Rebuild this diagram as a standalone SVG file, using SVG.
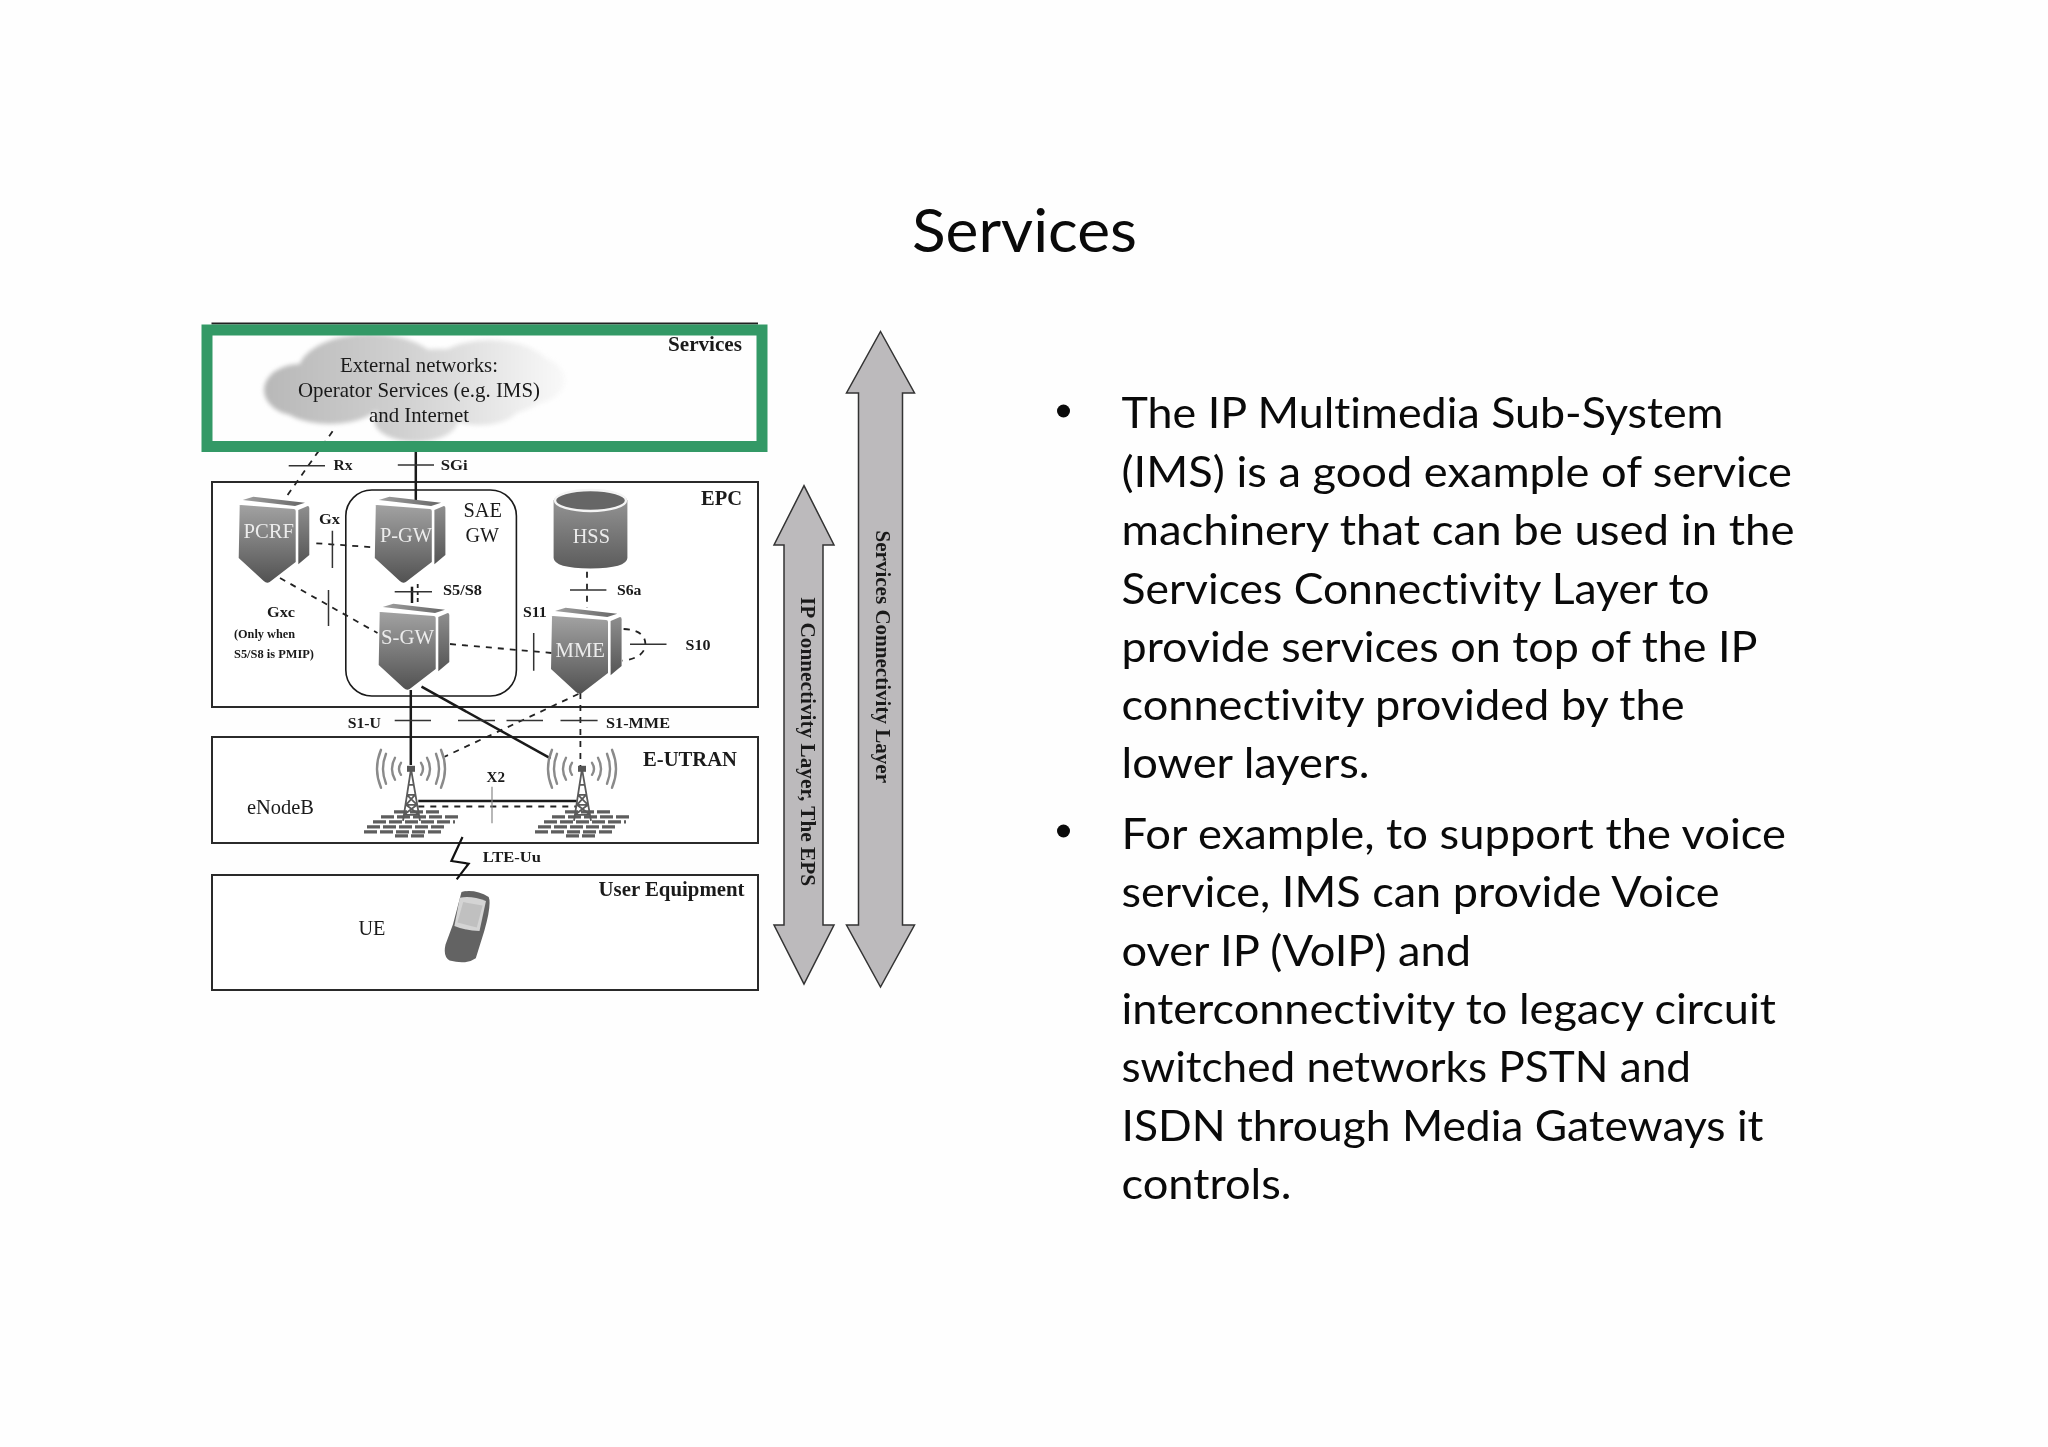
<svg xmlns="http://www.w3.org/2000/svg" width="2048" height="1447" viewBox="0 0 2048 1447">
<style>
text{font-family:"Liberation Serif","Times New Roman",serif;fill:#1a1a1a;font-variant-ligatures:none}
.b{font-weight:bold}
.w{fill:#ececec}
.body{font-family:Lato,"Noto Sans",sans-serif;font-size:43px;fill:#0a0a0a}
.box{fill:#fff;stroke:#2a2a2a;stroke-width:2}
.sol{fill:none;stroke:#1a1a1a;stroke-width:2.5}
.dash{fill:none;stroke:#222;stroke-width:1.8;stroke-dasharray:6 6}
.tick{fill:none;stroke:#333;stroke-width:1.5}
.wave{fill:none;stroke:#8a8a8a;stroke-width:2.4;stroke-linecap:round}
.arrow{fill:#bcbabc;stroke:#333;stroke-width:1.5}
</style>
<defs>
<filter id="soft" filterUnits="userSpaceOnUse" x="0" y="0" width="2048" height="1447" color-interpolation-filters="sRGB"><feGaussianBlur stdDeviation=".6"/></filter>
<filter id="softer" filterUnits="userSpaceOnUse" x="0" y="0" width="2048" height="1447" color-interpolation-filters="sRGB"><feGaussianBlur stdDeviation="2.2"/></filter>
<linearGradient id="front" x1="0" y1="0" x2="0" y2="1"><stop offset="0" stop-color="#a2a2a2"/><stop offset=".6" stop-color="#727272"/><stop offset="1" stop-color="#525252"/></linearGradient>
<linearGradient id="side" x1="0" y1="0" x2="0" y2="1"><stop offset="0" stop-color="#8e8e8e"/><stop offset="1" stop-color="#555"/></linearGradient>
<linearGradient id="cap" x1="0" y1="0" x2="1" y2="0"><stop offset="0" stop-color="#a0a0a0"/><stop offset="1" stop-color="#666"/></linearGradient>
<linearGradient id="hss" x1="0" y1="0" x2="0" y2="1"><stop offset="0" stop-color="#9a9a9a"/><stop offset="1" stop-color="#5c5c5c"/></linearGradient>
<linearGradient id="cloudG" gradientUnits="userSpaceOnUse" x1="264" y1="0" x2="570" y2="0"><stop offset="0" stop-color="#b8b8b8"/><stop offset=".45" stop-color="#d0d0d0"/><stop offset=".8" stop-color="#ebebeb"/><stop offset="1" stop-color="#fafafa"/></linearGradient>
<g id="server">
<path d="M4,-5 L14.600,-8.300 L66.300,-2.300 L56.300,1 Z" fill="url(#cap)"/>
<path d="M1,1 Q0,0 2,0 L55,4 Q57,4 57,6 L57,57 L31,77 Q28,79 25,76 L0,53 Z" fill="url(#front)"/>
<path d="M59.600,5 L69,1 Q70.600,1 70.600,3 L70.600,50 L59.600,59.300 Z" fill="url(#side)"/>
</g>
<g id="waves">
<path class="wave" d="M-10,-6 Q-14,0 -10,6 M10,-6 Q14,0 10,6"/>
<path class="wave" d="M-16,-11 Q-22,0 -16,11 M16,-11 Q22,0 16,11"/>
<path class="wave" d="M-25,-15 Q-31,0 -25,15 M25,-15 Q31,0 25,15"/>
<path class="wave" d="M-30,-19 Q-38,0 -30,19 M30,-19 Q38,0 30,19"/>
</g>
<g id="tower">
<path d="M0,0 L-8,52 M0,0 L9,52 M-2,16 L2,16 M-4,26 L4,26 M-5,36 L6,36 M-7,46 L8,46 M-4,26 L6,36 M4,26 L-5,36 M-5,36 L8,46 M6,36 L-7,46" fill="none" stroke="#5a5a5a" stroke-width="1.8"/>
<rect x="-4" y="-3" width="8" height="6" fill="#555"/>
</g>
<g id="grid" stroke="#5e5e5e" stroke-width="3.200" stroke-dasharray="13 3" fill="none">
<path d="M-17,43 H30"/><path d="M-30,48 H48"/><path d="M-38,53 H44"/><path d="M-44,58 H34"/><path d="M-47,63 H30"/><path d="M-16,67 H14"/>
</g>
</defs>
<rect id="background" width="2048" height="1447" fill="#fefefe"/>

<text id="title" x="912" y="252" font-size="60" textLength="225" lengthAdjust="spacingAndGlyphs" style="font-family:Lato,'Noto Sans',sans-serif;fill:#0a0a0a">Services</text>

<g id="diagram" filter="url(#soft)">
<g id="services-box">
<path d="M211.500,323.500 H758" stroke="#222" stroke-width="2" fill="none"/>
<g id="cloud" fill="url(#cloudG)" filter="url(#softer)">
<ellipse cx="300" cy="390" rx="36" ry="26"/>
<ellipse cx="370" cy="372" rx="72" ry="38"/>
<ellipse cx="440" cy="385" rx="90" ry="36"/>
<ellipse cx="490" cy="378" rx="66" ry="38"/>
<ellipse cx="530" cy="380" rx="35" ry="24"/>
<ellipse cx="416" cy="420" rx="42" ry="22"/>
<ellipse cx="330" cy="402" rx="50" ry="22"/>
<ellipse cx="480" cy="405" rx="40" ry="20"/>
</g>
<text x="340" y="372" font-size="21" textLength="158" lengthAdjust="spacingAndGlyphs">External networks:</text>
<text x="298" y="397" font-size="21" textLength="242" lengthAdjust="spacingAndGlyphs">Operator Services (e.g. IMS)</text>
<text x="369" y="422" font-size="21" textLength="100" lengthAdjust="spacingAndGlyphs">and Internet</text>
<text class="b" x="668" y="351" font-size="20" textLength="74" lengthAdjust="spacingAndGlyphs">Services</text>
</g>

<g id="epc-box"><rect class="box" x="212" y="482" width="546" height="225"/>
<rect x="345.800" y="490" width="170.600" height="206" rx="26" ry="26" fill="none" stroke="#1a1a1a" stroke-width="1.600"/>
<text class="b" x="701" y="505" font-size="22" textLength="41" lengthAdjust="spacingAndGlyphs">EPC</text>
<text x="463.500" y="517" font-size="22" textLength="38.500" lengthAdjust="spacingAndGlyphs">SAE</text>
<text x="465.500" y="542" font-size="22" textLength="33.500" lengthAdjust="spacingAndGlyphs">GW</text>
</g>
<g id="eutran-box"><rect class="box" x="212" y="737" width="546" height="106"/>
<text class="b" x="643" y="766" font-size="21" textLength="94" lengthAdjust="spacingAndGlyphs">E-UTRAN</text>
<text x="247" y="814" font-size="20" textLength="67" lengthAdjust="spacingAndGlyphs">eNodeB</text>
</g>
<g id="ue-box"><rect class="box" x="212" y="875" width="546" height="115"/>
<text class="b" x="598.500" y="896" font-size="20" textLength="146" lengthAdjust="spacingAndGlyphs">User Equipment</text>
<text x="358.500" y="935" font-size="20" textLength="27" lengthAdjust="spacingAndGlyphs">UE</text>
</g>

<g id="connectors">
<path class="dash" d="M287.600,495 L333.500,430"/>
<path class="sol" d="M415.800,446 V502"/>
<path class="dash" d="M316.300,543.300 L373.700,547.300"/>
<path class="dash" d="M280,578 L377.500,633"/>
<path class="sol" d="M412,586.700 V603"/>
<path class="dash" d="M417.700,584 V604" style="stroke-dasharray:4 3"/>
<path class="dash" d="M587,571.700 V608"/>
<path class="dash" d="M450,644 L551.600,653"/>
<path class="dash" d="M623.600,629 Q645,630 645.400,644 Q645,658 622.500,660.700"/>
<path class="sol" d="M410.800,690 V765"/>
<path class="sol" d="M421.500,686.700 L550.500,758.300"/>
<path class="dash" d="M578.400,694 L444.500,756.700"/>
<path class="dash" d="M580.400,693 V768"/>
<path class="sol" d="M418.300,801 H576.700"/>
<path class="dash" d="M418.300,806.500 H576.700"/>
<path d="M462.500,837 L451.400,861 L468.600,863.700 L456.700,879.300" fill="none" stroke="#111" stroke-width="2.200"/>
<path class="tick" d="M288.700,465.700 H325 M397.800,465 H434 M332.400,530.700 V568 M328.500,590 V626 M394.700,591.700 H432 M570,590 H606.400 M533.700,633 V670.700 M630,644.300 H666.500 M394.700,720.500 H431 M458,720.500 H495 M506.500,720.500 H543 M560.500,720.500 H597.600"/>
<path d="M492,786.700 V823.300" fill="none" stroke="#888" stroke-width="1.200"/>
</g>

<g id="interface-labels">
<text class="b" x="333.500" y="470" font-size="15" textLength="19" lengthAdjust="spacingAndGlyphs">Rx</text>
<text class="b" x="440.700" y="470" font-size="15" textLength="27" lengthAdjust="spacingAndGlyphs">SGi</text>
<text class="b" x="319" y="524" font-size="15" textLength="21" lengthAdjust="spacingAndGlyphs">Gx</text>
<text class="b" x="443" y="595" font-size="14" textLength="39" lengthAdjust="spacingAndGlyphs">S5/S8</text>
<text class="b" x="617" y="595" font-size="14" textLength="24.500" lengthAdjust="spacingAndGlyphs">S6a</text>
<text class="b" x="267" y="617" font-size="15" textLength="28" lengthAdjust="spacingAndGlyphs">Gxc</text>
<text class="b" x="523" y="617" font-size="15" textLength="23.700" lengthAdjust="spacingAndGlyphs">S11</text>
<text class="b" x="685.600" y="650" font-size="14" textLength="25" lengthAdjust="spacingAndGlyphs">S10</text>
<text class="b" x="234" y="638" font-size="12" textLength="61" lengthAdjust="spacingAndGlyphs">(Only when</text>
<text class="b" x="234" y="658" font-size="12" textLength="80" lengthAdjust="spacingAndGlyphs">S5/S8 is PMIP)</text>
<text class="b" x="347.700" y="727.500" font-size="15" textLength="33.300" lengthAdjust="spacingAndGlyphs">S1-U</text>
<text class="b" x="606" y="727.500" font-size="15" textLength="64" lengthAdjust="spacingAndGlyphs">S1-MME</text>
<text class="b" x="486.600" y="782" font-size="15" textLength="18.400" lengthAdjust="spacingAndGlyphs">X2</text>
<text class="b" x="482.800" y="862" font-size="15" textLength="58.200" lengthAdjust="spacingAndGlyphs">LTE-Uu</text>
</g>

<g id="pcrf"><use href="#server" x="238.700" y="505"/><text class="w" x="243.600" y="538" font-size="22" textLength="50.400" lengthAdjust="spacingAndGlyphs">PCRF</text></g>
<g id="p-gw"><use href="#server" x="374.800" y="505"/><text class="w" x="380" y="542" font-size="21" textLength="52" lengthAdjust="spacingAndGlyphs">P-GW</text></g>
<g id="s-gw"><use href="#server" x="378.700" y="612"/><text class="w" x="381" y="644" font-size="21" textLength="53" lengthAdjust="spacingAndGlyphs">S-GW</text></g>
<g id="mme"><use href="#server" x="551" y="616"/><text class="w" x="555.500" y="657" font-size="21" textLength="49.500" lengthAdjust="spacingAndGlyphs">MME</text></g>
<g id="hss-node">
<path d="M553.600,500.500 A37,11 0 0 1 627.400,500.500 V558 Q627,568 590.500,568.500 Q554,568 553.600,558 Z" fill="url(#hss)"/>
<ellipse cx="590.500" cy="500.500" rx="35.500" ry="10.500" fill="#666" stroke="#f4f4f4" stroke-width="2.400"/>
<text class="w" x="572.700" y="543" font-size="21" textLength="37.300" lengthAdjust="spacingAndGlyphs">HSS</text>
</g>
<g id="enb1"><use href="#waves" x="411" y="768.800"/><use href="#grid" x="411" y="768.800"/><use href="#tower" x="411" y="768.800"/></g>
<g id="enb2"><use href="#waves" x="582" y="768.800"/><use href="#grid" x="582" y="768.800"/><use href="#tower" x="582" y="768.800"/></g>
<g id="phone" transform="translate(419 880) scale(.34)">
<path d="M125,35 Q165,26 205,50 Q214,72 192,150 L167,230 Q140,250 90,237 Q70,225 78,190 L100,130 Z" fill="#636363"/>
<path d="M120,52 Q155,45 197,62 L178,150 Q140,150 104,135 Z" fill="#d4d4d4"/>
<path d="M130,65 L187,75 L170,140 L113,125 Z" fill="#c0c0c0"/>
</g>

<g id="layer-arrows">
<g id="ip-layer"><path class="arrow" d="M804,485.600 L834,545 H823 V925 H834 L804,984 L774,925 H784 V545 H774 Z"/>
<text class="b" transform="translate(800.500 597) rotate(90)" font-size="20" textLength="289" lengthAdjust="spacingAndGlyphs">IP Connectivity Layer, The EPS</text></g>
<g id="services-layer"><path class="arrow" d="M880.500,331.500 L914.500,393 H902.500 V925 H914.500 L880.500,987 L846.500,925 H858.500 V393 H846.500 Z"/>
<text class="b" transform="translate(875.500 530.500) rotate(90)" font-size="20" textLength="252.500" lengthAdjust="spacingAndGlyphs">Services Connectivity Layer</text></g>
</g>
</g>

<g id="green-highlight"><rect x="207" y="330" width="555" height="116.500" fill="none" stroke="#339966" stroke-width="11"/></g>

<g id="bullets" filter="url(#soft)">
<circle cx="1063.500" cy="411" r="6.500" fill="#0a0a0a"/>
<circle cx="1063.500" cy="831" r="6.500" fill="#0a0a0a"/>
<text class="body" x="1121.500" y="428" textLength="602" lengthAdjust="spacingAndGlyphs">The IP Multimedia Sub-System</text>
<text class="body" x="1121.500" y="486.500" textLength="670.500" lengthAdjust="spacingAndGlyphs">(IMS) is a good example of service</text>
<text class="body" x="1121.500" y="545" textLength="673" lengthAdjust="spacingAndGlyphs">machinery that can be used in the</text>
<text class="body" x="1121.500" y="603.500" textLength="588" lengthAdjust="spacingAndGlyphs">Services Connectivity Layer to</text>
<text class="body" x="1121.500" y="661.500" textLength="636" lengthAdjust="spacingAndGlyphs">provide services on top of the IP</text>
<text class="body" x="1121.500" y="720" textLength="563" lengthAdjust="spacingAndGlyphs">connectivity provided by the</text>
<text class="body" x="1121.500" y="778" textLength="248" lengthAdjust="spacingAndGlyphs">lower layers.</text>
<text class="body" x="1121.500" y="848.500" textLength="664.500" lengthAdjust="spacingAndGlyphs">For example, to support the voice</text>
<text class="body" x="1121.500" y="907" textLength="598" lengthAdjust="spacingAndGlyphs">service, IMS can provide Voice</text>
<text class="body" x="1121.500" y="965.500" textLength="349.500" lengthAdjust="spacingAndGlyphs">over IP (VoIP) and</text>
<text class="body" x="1121.500" y="1024" textLength="654.500" lengthAdjust="spacingAndGlyphs">interconnectivity to legacy circuit</text>
<text class="body" x="1121.500" y="1082" textLength="569.500" lengthAdjust="spacingAndGlyphs">switched networks PSTN and</text>
<text class="body" x="1121.500" y="1140.500" textLength="642" lengthAdjust="spacingAndGlyphs">ISDN through Media Gateways it</text>
<text class="body" x="1121.500" y="1198.500" textLength="170" lengthAdjust="spacingAndGlyphs">controls.</text>
</g>
</svg>
